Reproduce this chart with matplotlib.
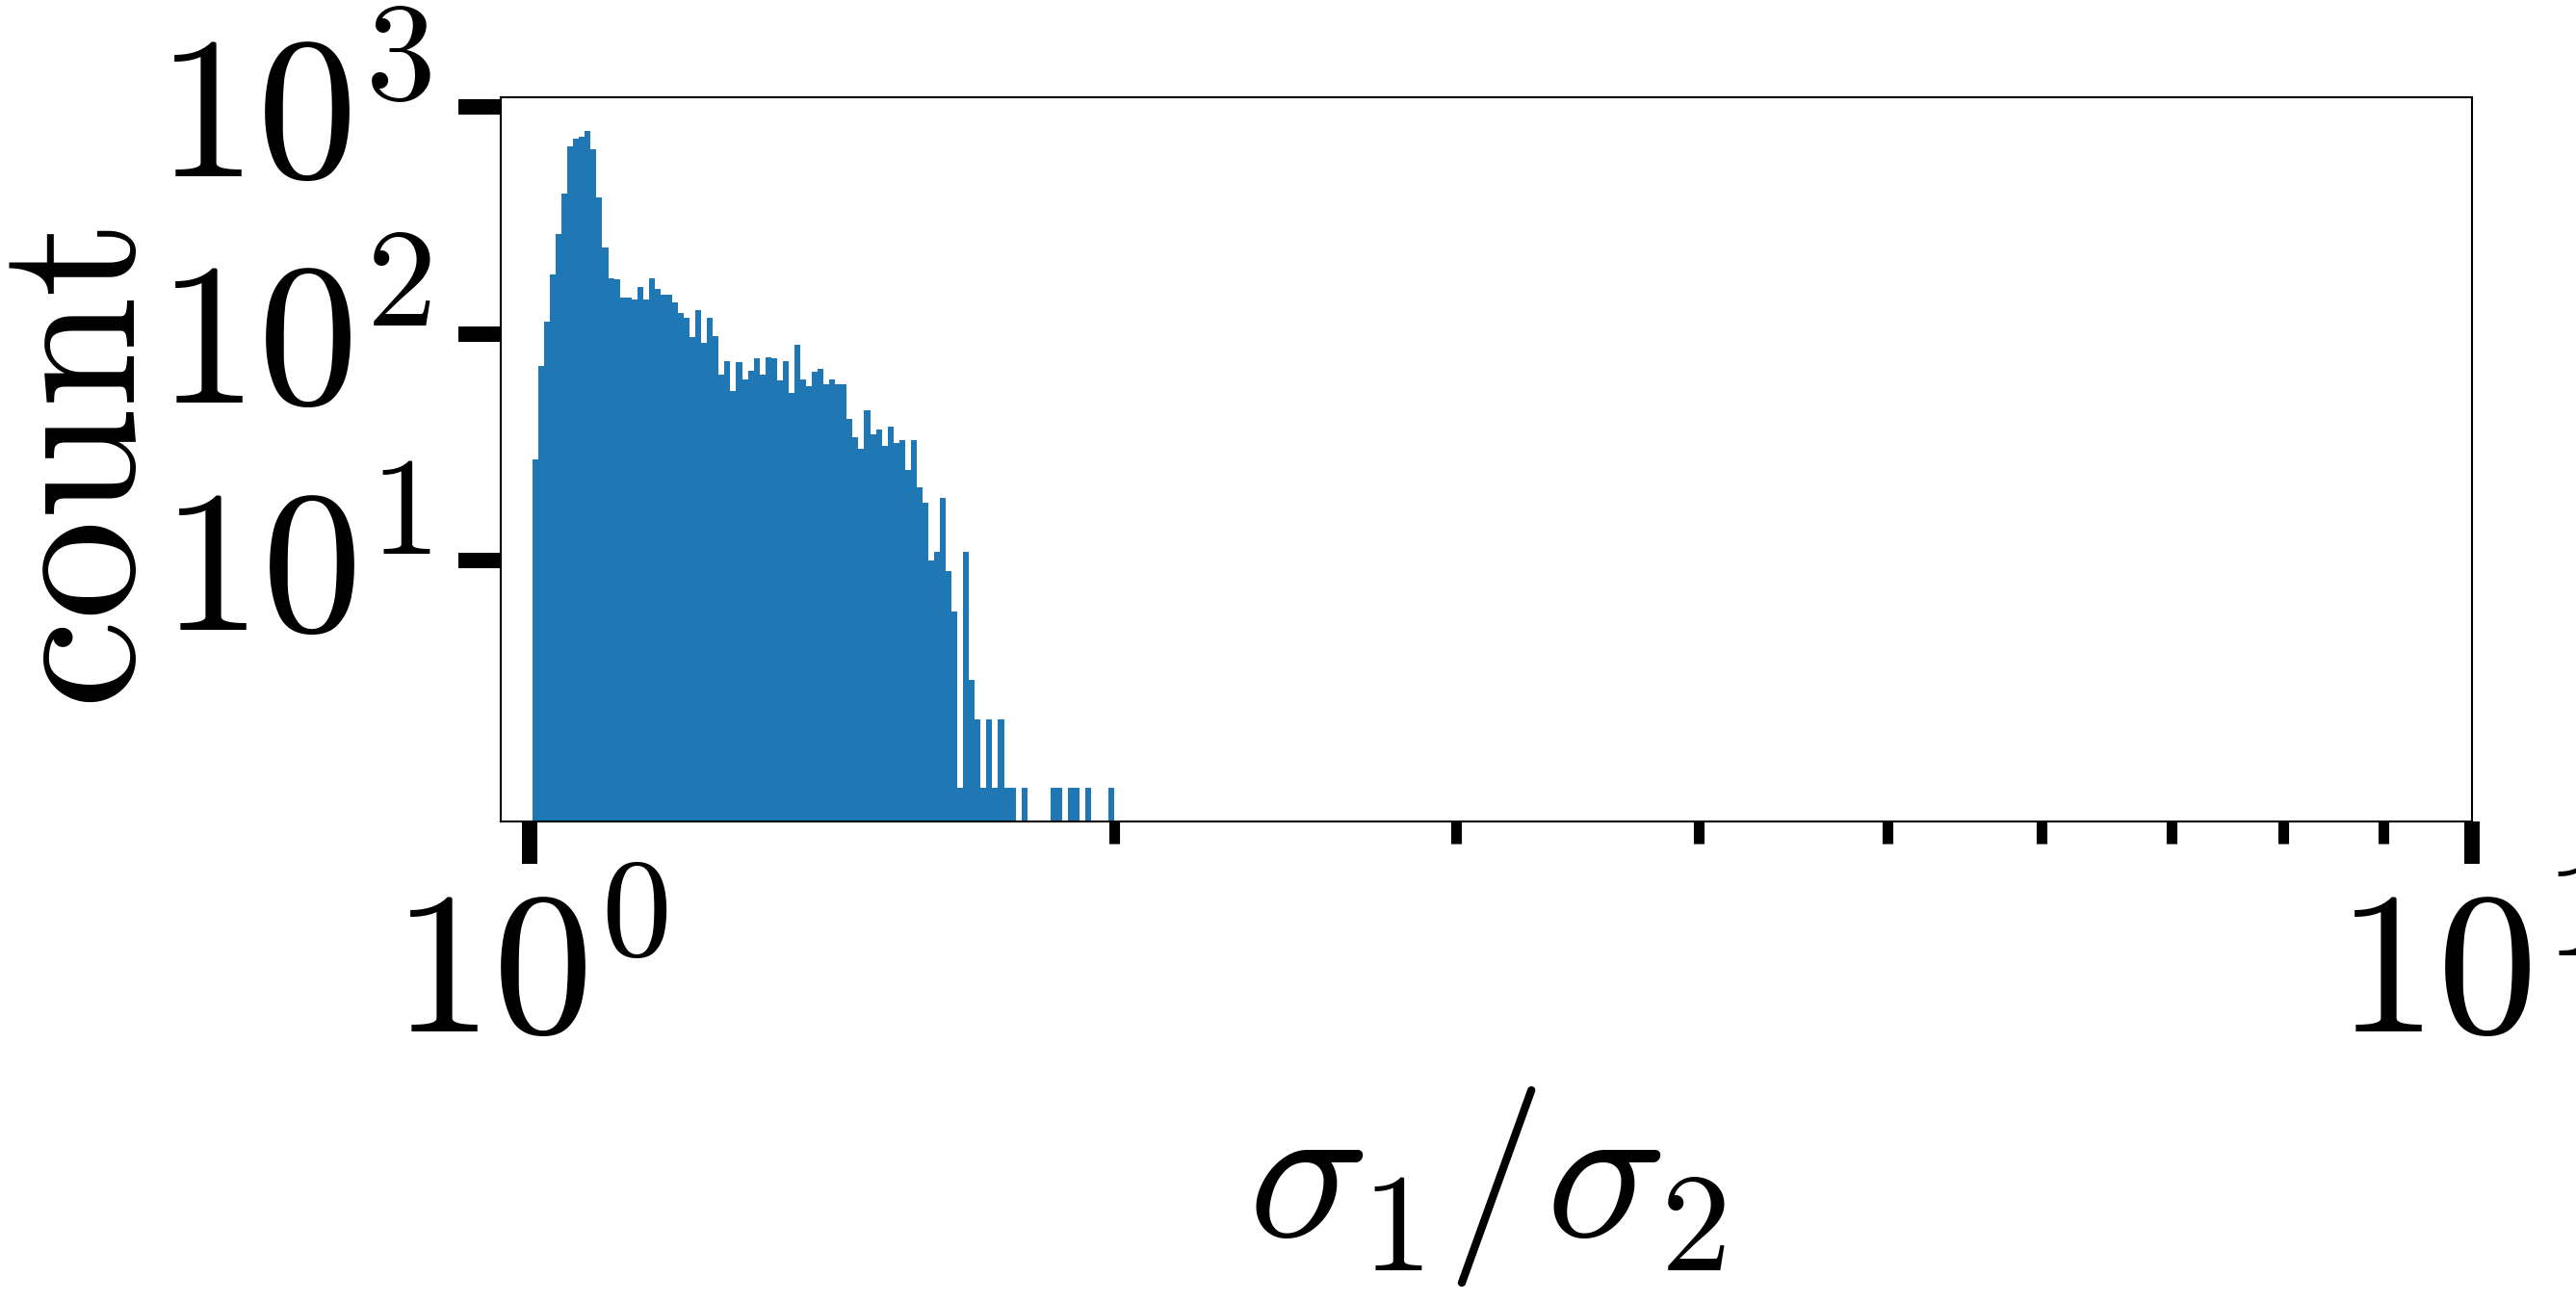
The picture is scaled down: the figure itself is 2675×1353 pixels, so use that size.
import numpy as np
from matplotlib import pyplot as plt

plt.rcParams['mathtext.fontset'] = 'cm'
plt.rcParams['font.family'] = 'serif'
plt.rcParams['font.serif'] = ['cmr10', 'DejaVu Serif']

# histogram of sigma_1/sigma_2, 100 log-spaced bins between lo and hi
lo = 1.003
hi = 2.0
nbins = 100
counts = [28, 72, 113, 182, 274, 413, 670, 720, 741, 785,
          652, 397, 241, 176, 173, 144, 144, 141, 160, 141,
          175, 157, 148, 148, 138, 123, 117, 97, 127, 91,
          117, 98, 66, 76, 56, 75, 63, 69, 78, 66,
          79, 78, 62, 76, 55, 89, 63, 59, 68, 70,
          60, 63, 60, 60, 42, 35, 31, 46, 36, 38,
          32, 39, 33, 34, 25, 34, 21, 18, 10, 11,
          19, 9, 6, 1, 11, 3, 2, 1, 2, 1,
          2, 1, 1, 0, 1, 0, 0, 0, 0, 1,
          1, 0, 1, 1, 0, 1, 0, 0, 0, 1]

yticks = [10, 100, 1000]
ylabels = [r'$10^{1}$', r'$10^{2}$', r'$10^{3}$']
xticks = [1, 10]
xlabels = [r'$10^{0}$', r'$10^{1}$']
xminor = [2, 3, 4, 5, 6, 7, 8, 9]

edges = np.logspace(np.log10(lo), np.log10(hi), nbins + 1)

fig = plt.figure(figsize=(26.75, 13.53), dpi=100)
ax = fig.add_axes([0.1944, 0.3695, 0.7652, 0.5558])
ax.hist(edges[:-1], bins=edges, weights=counts, color='#1f77b4')
ax.set_xscale('log')
ax.set_yscale('log')
ax.set_xlim(0.966, 10)
ax.set_ylim(0.71, 1100)

ax.set_yticks(yticks, labels=ylabels)
ax.set_yticks([], minor=True)
ax.set_xticks(xticks, labels=xlabels)
ax.set_xticks(xminor, minor=True)
ax.set_xticklabels([], minor=True)

ax.tick_params(which='major', length=31.5, width=11.5, labelsize=150)
ax.tick_params(axis='y', which='major', pad=20)
ax.tick_params(axis='x', which='major', pad=21)
ax.tick_params(which='minor', length=16.5, width=8)
for s in ax.spines.values():
    s.set_linewidth(1.5)

ax.set_ylabel(r'$\mathrm{count}$', fontsize=150)
ax.yaxis.set_label_coords(-0.1656, 0.487)
ax.set_xlabel(r'$\sigma_1/\sigma_2$', fontsize=150)
ax.xaxis.set_label_coords(0.5, -0.363)

fig.savefig('out.png', dpi=100)
